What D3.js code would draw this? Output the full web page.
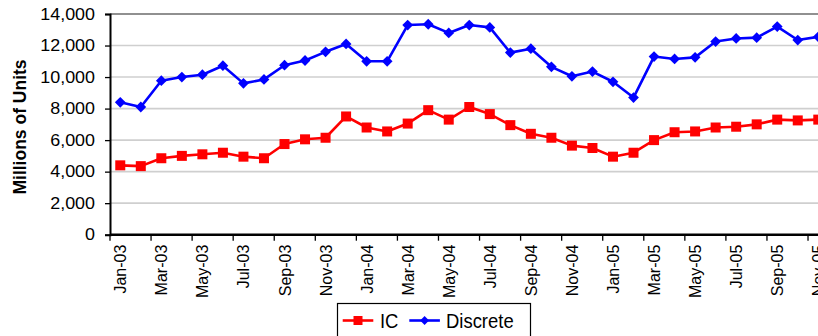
<!DOCTYPE html>
<html><head><meta charset="utf-8">
<script src="https://cdn.jsdelivr.net/npm/d3@7"></script>
<style>
html,body{margin:0;padding:0;background:#fff;}
svg{display:block;font-family:"Liberation Sans",Arial,sans-serif;}
</style></head>
<body><svg id="c" width="818" height="336"></svg>
<script>
const months = ["Jan-03","Feb-03","Mar-03","Apr-03","May-03","Jun-03","Jul-03","Aug-03","Sep-03","Oct-03","Nov-03","Dec-03",
"Jan-04","Feb-04","Mar-04","Apr-04","May-04","Jun-04","Jul-04","Aug-04","Sep-04","Oct-04","Nov-04","Dec-04",
"Jan-05","Feb-05","Mar-05","Apr-05","May-05","Jun-05","Jul-05","Aug-05","Sep-05","Oct-05","Nov-05","Dec-05"];
const icValues = [4400,4350,4850,5000,5100,5200,4950,4850,5750,6050,6150,7500,
6800,6550,7050,7900,7300,8100,7650,6950,6400,6150,5650,5500,
4950,5200,6000,6500,6550,6800,6850,7000,7300,7250,7300];
const discreteValues = [8400,8100,9770,10000,10150,10720,9600,9850,10750,11050,11600,12100,
11000,11000,13300,13350,12800,13300,13150,11550,11800,10650,10050,10350,
9700,8700,11300,11150,11250,12250,12450,12500,13200,12350,12550];
const yTicks = [0,2000,4000,6000,8000,10000,12000,14000];
const seriesNames = ["IC","Discrete"];
const seriesColors = ["#ff0000","#0000ff"];
const yTitle = "Millions of Units";

const svg = d3.select("#c");
const mLeft = 110, mTop = 14, mBottom = 234.7, step = 20.53;
const x = d3.scaleBand().domain(months).range([mLeft, mLeft + months.length*step]).padding(0);
const y = d3.scaleLinear().domain([0,14000]).range([mBottom, mTop]);
const cx = m => x(m) + x.bandwidth()/2;

// gridlines
svg.append("g").selectAll("line").data(yTicks.filter(v=>v>0 && v<14000)).join("line")
  .attr("x1", mLeft).attr("x2", 818).attr("y1", d=>y(d)).attr("y2", d=>y(d))
  .attr("stroke","#cfcfcf").attr("stroke-width",1.6);
// top border
svg.append("line").attr("x1",mLeft).attr("x2",818).attr("y1",y(14000)).attr("y2",y(14000))
  .attr("stroke","#222").attr("stroke-width",1.2);

// y axis
const yAxis = svg.append("g").attr("transform",`translate(${mLeft},0)`)
  .call(d3.axisLeft(y).tickValues(yTicks).tickFormat(d3.format(",")).tickSize(5));
yAxis.select(".domain").attr("stroke","#000").attr("stroke-width",2);
yAxis.selectAll(".tick line").attr("stroke","#000").attr("stroke-width",1.3);
yAxis.selectAll(".tick text").attr("font-size",16).attr("fill","#000")
  .attr("font-family","Liberation Sans, Arial, sans-serif")
  .attr("x", -15/1.12).attr("transform","scale(1.12,1)");

// x axis
const xg = svg.append("g");
xg.append("line").attr("x1",mLeft).attr("x2",818).attr("y1",mBottom).attr("y2",mBottom)
  .attr("stroke","#000").attr("stroke-width",2.6);
const tickMonths = months.filter((m,i)=>i%2===0);
xg.selectAll("line.t").data(tickMonths).join("line").attr("class","t")
  .attr("x1",d=>x(d)).attr("x2",d=>x(d)).attr("y1",mBottom).attr("y2",mBottom+6)
  .attr("stroke","#000").attr("stroke-width",1.3);
xg.selectAll("text").data(tickMonths).join("text")
  .attr("transform",d=>`translate(${cx(d)+6},${mBottom+10}) rotate(-90)`)
  .attr("text-anchor","end").attr("font-size",16).attr("fill","#000")
  .text(d=>d);

// y title
svg.append("text").attr("transform",`translate(26,127) rotate(-90)`)
  .attr("text-anchor","middle").attr("font-weight","bold").attr("font-size",17.5)
  .attr("fill","#000").text(yTitle);

// series lines
const line = d3.line().x((d,i)=>cx(months[i])).y(d=>y(d));
[icValues, discreteValues].forEach((vals,k)=>{
  svg.append("path").datum(vals).attr("d",line).attr("fill","none")
    .attr("stroke",seriesColors[k]).attr("stroke-width",2.6).attr("stroke-linejoin","round");
});
// markers
svg.append("g").selectAll("rect").data(icValues).join("rect")
  .attr("x",(d,i)=>cx(months[i])-5).attr("y",d=>y(d)-5).attr("width",10).attr("height",10)
  .attr("fill",seriesColors[0]);
svg.append("g").selectAll("path").data(discreteValues).join("path")
  .attr("d",d3.symbol().type(d3.symbolSquare).size(58))
  .attr("transform",(d,i)=>`translate(${cx(months[i])},${y(d)}) rotate(45)`)
  .attr("fill",seriesColors[1]);

// legend
const lg = svg.append("g");
lg.append("rect").attr("x",337.5).attr("y",303.5).attr("width",193).attr("height",40)
  .attr("fill","#fff").attr("stroke","#000").attr("stroke-width",1.2);
const legendItems = [{name:seriesNames[0],c:seriesColors[0],x1:342.7,tx:380},{name:seriesNames[1],c:seriesColors[1],x1:409.3,tx:446}];
legendItems.forEach((it,k)=>{
  lg.append("line").attr("x1",it.x1).attr("x2",it.x1+30.6).attr("y1",320.5).attr("y2",320.5)
    .attr("stroke",it.c).attr("stroke-width",2.6);
  if(k===0){
    lg.append("rect").attr("x",it.x1+15.3-4.5).attr("y",320.5-4.5).attr("width",9).attr("height",9).attr("fill",it.c);
  } else {
    lg.append("path").attr("d",d3.symbol().type(d3.symbolSquare).size(40)())
      .attr("transform",`translate(${it.x1+15.3},320.5) rotate(45)`).attr("fill",it.c);
  }
  lg.append("text").attr("x",it.tx).attr("y",328.3).attr("font-size",20.5).attr("fill","#000")
    .attr("transform",`translate(${it.tx},0) scale(0.9,1) translate(${-it.tx},0)`).text(it.name);
});
</script></body></html>
